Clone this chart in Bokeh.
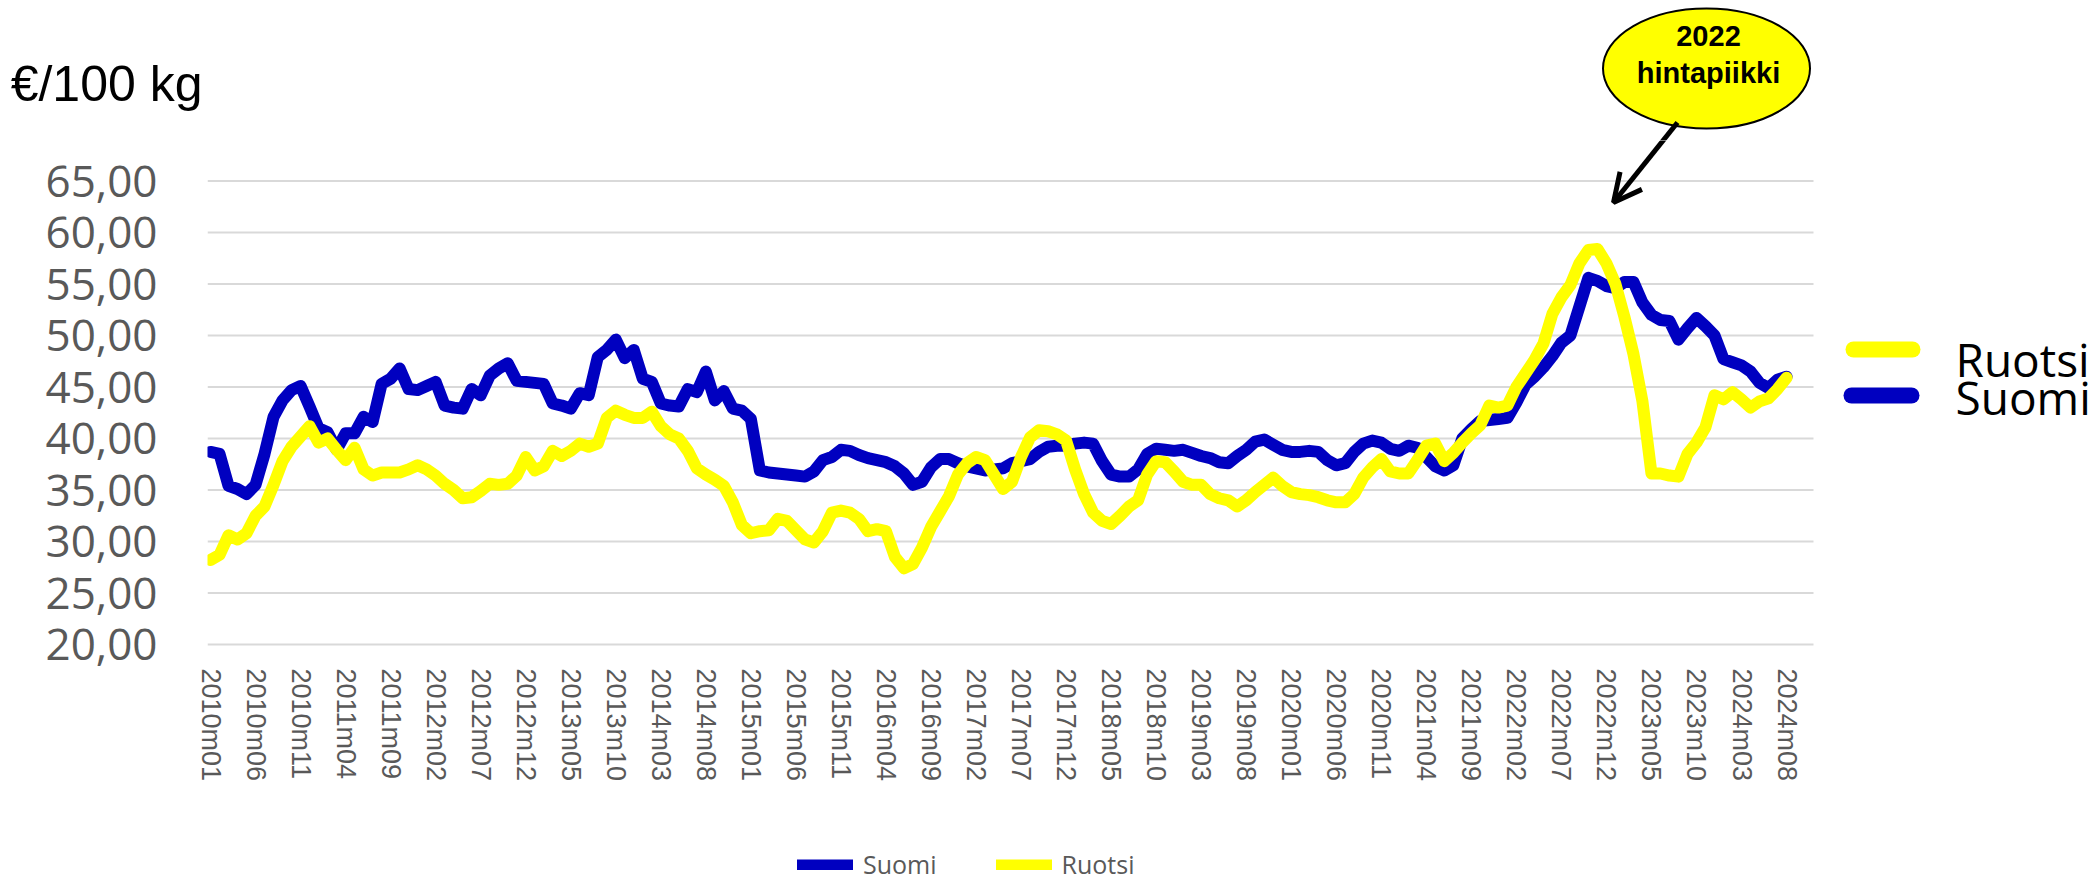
from bokeh.plotting import figure
from bokeh.layouts import column
from bokeh.models import (Range1d, FixedTicker, CustomJSTickFormatter, Arrow,
                          OpenHead, Legend, LegendItem)
from bokeh.core.properties import value
from bokeh.embed import file_html
from bokeh.resources import INLINE

# ---------------- data (€/100 kg, monthly 2010m01 .. 2024m08) ----------------
suomi = [38.7, 38.5, 35.4, 35.1, 34.6, 35.5, 38.5, 42.1, 43.7, 44.7,
         45.1, 43.1, 41.0, 40.6, 38.9, 40.5, 40.5, 42.1, 41.6, 45.3,
         45.8, 46.8, 44.8, 44.7, 45.1, 45.5, 43.2, 43.0, 42.9, 44.8,
         44.2, 46.1, 46.8, 47.3, 45.6, 45.5, 45.4, 45.3, 43.4, 43.2,
         42.9, 44.4, 44.2, 47.9, 48.6, 49.6, 47.8, 48.6, 45.8, 45.5,
         43.4, 43.2, 43.1, 44.8, 44.5, 46.5, 43.7, 44.6, 42.9, 42.7,
         41.9, 36.9, 36.7, 36.6, 36.5, 36.4, 36.3, 36.8, 37.9, 38.2,
         38.9, 38.8, 38.4, 38.1, 37.9, 37.7, 37.3, 36.6, 35.5, 35.8,
         37.2, 38.0, 38.0, 37.6, 37.3, 37.1, 36.9, 37.0, 37.1, 37.6,
         37.8, 38.0, 38.7, 39.2, 39.3, 39.3, 39.5, 39.6, 39.5, 37.8,
         36.5, 36.3, 36.3, 37.0, 38.5, 39.0, 38.9, 38.8, 38.9, 38.6,
         38.3, 38.1, 37.7, 37.6, 38.3, 38.9, 39.7, 39.9, 39.4, 38.9,
         38.7, 38.7, 38.8, 38.7, 37.9, 37.4, 37.6, 38.7, 39.5, 39.8,
         39.6, 39.0, 38.8, 39.3, 39.1, 38.2, 37.3, 36.9, 37.4, 40.0,
         40.9, 41.7, 41.8, 41.9, 42.0, 43.5, 45.2, 46.0, 46.9, 48.0,
         49.3, 50.0, 52.8, 55.6, 55.3, 54.8, 54.6, 55.2, 55.2, 53.2,
         52.0, 51.5, 51.4, 49.6, 50.7, 51.7, 50.9, 50.0, 47.7, 47.4,
         47.1, 46.5, 45.4, 44.9, 45.7, 46.0]

ruotsi = [28.2, 28.7, 30.6, 30.2, 30.8, 32.5, 33.4, 35.5, 37.8, 39.2,
          40.2, 41.2, 39.6, 40.0, 38.9, 37.9, 39.1, 37.0, 36.4, 36.7,
          36.7, 36.7, 37.0, 37.4, 37.0, 36.4, 35.6, 35.0, 34.2, 34.3,
          34.9, 35.6, 35.5, 35.6, 36.4, 38.2, 36.9, 37.3, 38.8, 38.3,
          38.8, 39.5, 39.2, 39.5, 42.0, 42.7, 42.3, 42.0, 42.0, 42.6,
          41.2, 40.4, 40.0, 38.8, 37.1, 36.5, 36.0, 35.4, 33.8, 31.6,
          30.8, 31.0, 31.1, 32.2, 32.0, 31.1, 30.2, 29.9, 31.0, 32.8,
          33.0, 32.8, 32.2, 31.0, 31.2, 31.0, 28.5, 27.4, 27.8, 29.4,
          31.4, 32.9, 34.4, 36.5, 37.6, 38.2, 37.9, 36.5, 35.1, 35.8,
          38.2, 40.1, 40.8, 40.7, 40.4, 39.8, 37.0, 34.6, 32.8, 32.0,
          31.7, 32.5, 33.4, 34.0, 36.5, 37.8, 37.7, 36.8, 35.8, 35.5,
          35.5, 34.6, 34.2, 34.0, 33.4, 34.0, 34.8, 35.5, 36.2, 35.4,
          34.8, 34.6, 34.5, 34.3, 34.0, 33.8, 33.8, 34.6, 36.2, 37.2,
          38.0, 36.8, 36.6, 36.6, 37.9, 39.3, 39.5, 37.8, 38.6, 39.6,
          40.5, 41.3, 43.2, 43.0, 43.2, 45.0, 46.3, 47.6, 49.2, 52.1,
          53.7, 54.9, 57.0, 58.3, 58.4, 57.0, 55.0, 51.8, 48.2, 43.6,
          36.6, 36.6, 36.4, 36.3, 38.5, 39.6, 41.1, 44.2, 43.8, 44.5,
          43.8, 43.0, 43.6, 43.9, 44.8, 45.9]

tick_labels = ["2010m01", "2010m06", "2010m11", "2011m04", "2011m09", "2012m02",
               "2012m07", "2012m12", "2013m05", "2013m10", "2014m03", "2014m08",
               "2015m01", "2015m06", "2015m11", "2016m04", "2016m09", "2017m02",
               "2017m07", "2017m12", "2018m05", "2018m10", "2019m03", "2019m08",
               "2020m01", "2020m06", "2020m11", "2021m04", "2021m09", "2022m02",
               "2022m07", "2022m12", "2023m05", "2023m10", "2024m03", "2024m08"]
tick_idx = [5 * k for k in range(len(tick_labels))]
y_ticks = [20, 25, 30, 35, 40, 45, 50, 55, 60, 65]
series_names = ["Suomi", "Ruotsi"]
unit_text = "€/100 kg"

x_idx = list(range(len(suomi)))

BLUE = "#0000C0"
YELLOW = "#FFFF00"
GRAY = "#595959"

# ---------------- page layout (page pixels) ----------------
W, H = 2098, 881
TOP_H = 140          # strip above the plot area (unit caption + callout)
BOT_Y = 840          # strip below (bottom legend) starts here
FL, FB = 207, 646    # plot frame left / bottom

X0, DXP = 210.0, 9.006      # page x of month 0, px per month
Y20, DYP = 644.0, 10.3      # page y of value 20, px per unit


def dx(px):
    return (px - X0) / DXP


def dy(py):
    return 20 + (Y20 - py) / DYP


def strip(height, y_top, with_axis=False):
    # frames of a column are aligned with the main plot, so x runs from FL
    f = figure(width=W, height=height, output_backend="svg", toolbar_location=None,
               x_range=Range1d(FL, W), y_range=Range1d(y_top + height, y_top),
               x_axis_type=None, y_axis_type=("linear" if with_axis else None),
               min_border=0, min_border_left=FL)
    f.outline_line_color = None
    f.grid.visible = False
    f.background_fill_color = "white"
    f.border_fill_color = "white"
    return f


# ---------------- top strip: unit caption (as axis label) and callout ----------------
top = strip(TOP_H, 0, with_axis=True)
ua = top.yaxis[0]
ua.ticker = FixedTicker(ticks=[83.5])
ua.formatter = CustomJSTickFormatter(code="return '%s';" % unit_text)
ua.major_label_text_font = "Liberation Sans"
ua.major_label_text_font_size = "50px"
ua.major_label_text_color = "black"
ua.axis_line_color = None
ua.major_tick_line_color = None
ua.minor_tick_line_color = None
ua.major_tick_out = 0
ua.major_tick_in = 0
ua.major_label_standoff = 5

top.ellipse(x=[1706], y=[68], width=[207], height=[120],
            width_units="screen", height_units="screen",
            fill_color=YELLOW, line_color="black", line_width=2)
top.text(x=[1708, 1708], y=[35, 72.5], text=["2022", "hintapiikki"],
         text_font=value("Liberation Sans"), text_font_style="bold",
         text_font_size="29px", text_color="black", text_align="center",
         text_baseline="middle")
AX0, AY0, AX1, AY1 = 1677, 122, 1613, 202      # callout arrow (page px)


def arrow_x(py):
    return AX0 + (AX1 - AX0) * (py - AY0) / (AY1 - AY0)


top.segment(x0=[AX0], y0=[AY0], x1=[arrow_x(TOP_H + 6)], y1=[TOP_H + 6],
            line_color="black", line_width=5)

# ---------------- main plot ----------------
MAIN_H = BOT_Y - TOP_H
p = figure(width=W, height=MAIN_H, output_backend="svg", toolbar_location=None,
           x_range=Range1d(dx(FL), dx(W)), y_range=Range1d(dy(FB), dy(TOP_H)),
           min_border_left=FL, min_border_right=0, min_border_top=0,
           min_border_bottom=BOT_Y - FB)
p.outline_line_color = None
p.xgrid.visible = False
p.ygrid.visible = False
p.background_fill_color = "white"
p.border_fill_color = "white"

p.segment(x0=[dx(207)] * len(y_ticks), x1=[dx(1813)] * len(y_ticks),
          y0=y_ticks, y1=y_ticks, line_color="#D9D9D9", line_width=2)

r_fi = p.line(x_idx, suomi, line_color=BLUE, line_width=12,
              line_join="round", line_cap="round")
r_se = p.line(x_idx, ruotsi, line_color=YELLOW, line_width=12,
              line_join="round", line_cap="round")

xa = p.xaxis[0]
xa.ticker = FixedTicker(ticks=tick_idx)
xa.major_label_overrides = {i: lab for i, lab in zip(tick_idx, tick_labels)}
xa.major_label_orientation = "vertical"
xa.major_label_text_font = "Liberation Sans"
xa.major_label_text_font_size = "27px"
xa.major_label_text_color = GRAY
xa.axis_line_color = None
xa.major_tick_line_color = None
xa.minor_tick_line_color = None
xa.major_tick_out = 0
xa.major_tick_in = 0
xa.major_label_standoff = 22

ya = p.yaxis[0]
ya.ticker = FixedTicker(ticks=y_ticks)
ya.formatter = CustomJSTickFormatter(code="return tick.toFixed(2).replace('.', ',');")
ya.major_label_text_font = "Open Sans"
ya.major_label_text_font_size = "44px"
ya.major_label_text_color = GRAY
ya.axis_line_color = None
ya.major_tick_line_color = None
ya.minor_tick_line_color = None
ya.major_tick_out = 0
ya.major_tick_in = 0
ya.major_label_standoff = 50

# right-hand legend (large)
p.segment(x0=[dx(1853), dx(1851)], x1=[dx(1912), dx(1911)],
          y0=[dy(349), dy(395)], y1=[dy(349), dy(395)],
          line_color=[YELLOW, BLUE], line_width=16, line_cap="round")
p.text(x=[dx(1955), dx(1955)], y=[dy(358), dy(396)], text=["Ruotsi", "Suomi"],
       text_font=value("Open Sans"), text_font_size="46px", text_color="black",
       text_baseline="middle", text_align="left")

# lower part of the callout arrow, with its head
p.add_layout(Arrow(end=OpenHead(size=28, line_width=5, line_color="black"),
                   x_start=dx(arrow_x(TOP_H - 6)), y_start=dy(TOP_H - 6),
                   x_end=dx(AX1), y_end=dy(AY1),
                   line_width=5, line_color="black"))

# ---------------- bottom strip: legend ----------------
bot = strip(H - BOT_Y, BOT_Y)
k_fi = bot.line(x=[0, 1], y=[860, 860], line_color=BLUE, line_width=11, line_cap="round")
k_se = bot.line(x=[0, 1], y=[860, 860], line_color=YELLOW, line_width=11, line_cap="round")
legend = Legend(items=[LegendItem(label=series_names[0], renderers=[k_fi]),
                       LegendItem(label=series_names[1], renderers=[k_se])],
                orientation="horizontal", location=(797 - FL, 0),
                glyph_width=56, glyph_height=11, label_standoff=10, spacing=59,
                label_text_font="Open Sans", label_text_font_size="25px",
                label_text_color=GRAY, border_line_color=None,
                background_fill_alpha=0, padding=0, margin=0)
bot.add_layout(legend)

page = column(top, p, bot, spacing=0)
open("out.html", "w").write(file_html(page, INLINE))
